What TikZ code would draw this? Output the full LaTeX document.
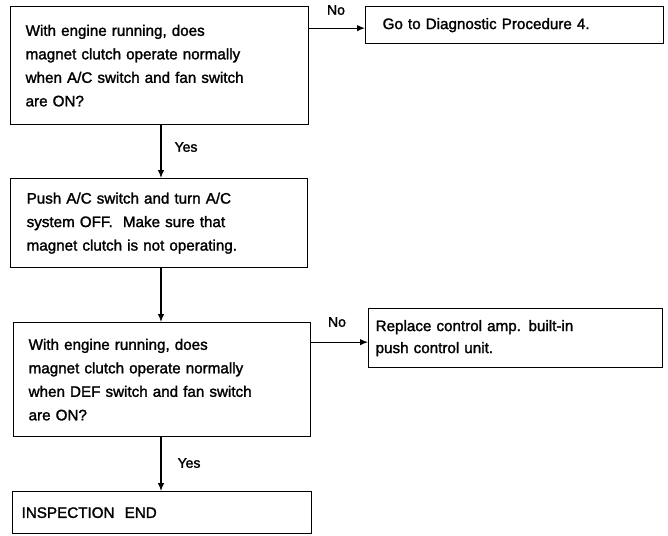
\documentclass[tikz,border=0pt]{standalone}
\usepackage{fontspec}
\setmainfont{Liberation Sans}[FakeBold=1.6]
\usetikzlibrary{arrows.meta}
\begin{document}
\begin{tikzpicture}[x=1pt,y=-1pt,
  box/.style={draw, line width=1.3pt, inner sep=0pt, align=left, anchor=north west,
    font=\fontsize{15.2}{23.5}\selectfont},
  conn/.style={line width=1.2pt, -{Latex[length=8pt,width=6.5pt]}},
  lbl/.style={font=\fontsize{14}{16}\selectfont, inner sep=0pt}]
\useasboundingbox (0,0) rectangle (668,535);

\node[box, minimum width=298pt, minimum height=118pt, text width=268pt] (q1) at (10,6)
  {With engine running, does\\magnet clutch operate normally\\when A/C switch and fan switch\\are ON?};
\node[box, minimum width=298pt, minimum height=37pt, text width=264pt] (go) at (365,6)
  {Go to Diagnostic Procedure 4.};
\node[box, minimum width=297pt, minimum height=89pt, text width=265pt] (push) at (10,178)
  {Push A/C switch and turn A/C\\system OFF.\ \ Make sure that\\magnet clutch is not operating.};
\node[box, minimum width=297pt, minimum height=114pt, text width=267pt] (q2) at (13,322)
  {With engine running, does\\magnet clutch operate normally\\when DEF switch and fan switch\\are ON?};
\node[box, minimum width=294pt, minimum height=59pt, text width=280pt,
  font=\fontsize{15.2}{22}\selectfont] (rep) at (368,308)
  {Replace control amp. built-in\\push control unit.};
\node[box, minimum width=299pt, minimum height=42pt, text width=281pt] (end) at (12,491)
  {INSPECTION\ \ END};

\coordinate (v) at (161,0);
\draw[conn] (q1.south -| v) -- (push.north -| v);
\draw[conn] (push.south -| v) -- (q2.north -| v);
\draw[conn] (q2.south -| v) -- (end.north -| v);
\draw[conn] ([yshift=-3pt]go.west -| q1.east) -- ([yshift=-3pt]go.west);
\draw[conn] ([yshift=-4pt]rep.west -| q2.east) -- ([yshift=-4pt]rep.west);

\node[lbl] (no1) at (336,10) {No};
\node[lbl] (no2) at (337,322) {No};
\node[lbl] (yes1) at (186,147) {Yes};
\node[lbl] (yes2) at (189,463) {Yes};
\end{tikzpicture}
\end{document}
